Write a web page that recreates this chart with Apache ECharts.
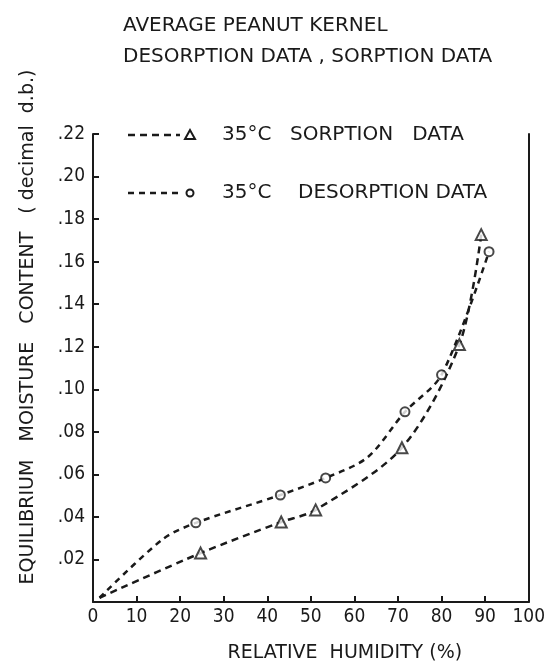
<!DOCTYPE html>
<html>
<head>
<meta charset="utf-8">
<script src="https://cdn.jsdelivr.net/npm/echarts@6/dist/echarts.min.js"></script>
<style>
  html, body { margin: 0; padding: 0; background: #fff; }
  #chart { width: 548px; height: 668px; }
</style>
</head>
<body>
<div id="chart"></div>
<script>
const sorptionRH = [24.7, 43.2, 51.1, 70.9, 84.1, 89.1];
const sorptionEMC = [0.023, 0.0376, 0.0433, 0.0725, 0.121, 0.1727];
const desorptionRH = [23.6, 43.0, 53.4, 71.6, 80.0, 90.9];
const desorptionEMC = [0.0372, 0.0503, 0.0583, 0.0894, 0.1068, 0.1647];
// where the hand-drawn curves start and bend (no marker there)
const sorptionCurve = [[1.5, 0.002]];
const desorptionCurve = [[1.5, 0.002], [16, 0.0295], [63, 0.068]];

const xTicks = [0, 10, 20, 30, 40, 50, 60, 70, 80, 90, 100];
const yTicks = [0, 0.02, 0.04, 0.06, 0.08, 0.10, 0.12, 0.14, 0.16, 0.18, 0.20, 0.22];

const font = "'DejaVu Sans', sans-serif";
const numFont = "'DejaVu Sans Condensed', 'DejaVu Sans', sans-serif";
const ink = '#1a1a1a';

function pairs(xs, ys) {
    return xs.map(function (x, i) { return [x, ys[i]]; });
}
function path(xs, ys, extra) {
    return pairs(xs, ys).concat(extra).sort(function (a, b) { return a[0] - b[0]; });
}

let mychart = echarts.init(document.getElementById('chart'));
let option = {
    backgroundColor: '#fff',
    animation: false,
    title: {
        text: 'AVERAGE PEANUT KERNEL\nDESORPTION DATA , SORPTION DATA',
        left: 118,
        top: 5,
        textStyle: {
            fontFamily: font,
            fontWeight: 'normal',
            fontSize: 20,
            lineHeight: 31,
            color: ink
        }
    },
    grid: {
        left: 93,
        right: 13,
        top: 134,
        bottom: 66
    },
    xAxis: {
        type: 'value',
        min: xTicks[0],
        max: xTicks[xTicks.length - 1],
        interval: 10,
        name: 'RELATIVE  HUMIDITY (%)',
        nameLocation: 'middle',
        nameGap: 42,
        nameTextStyle: { fontFamily: font, fontSize: 19, color: ink, padding: [0, 0, 0, 68] },
        splitLine: { show: false },
        axisLine: { lineStyle: { color: ink, width: 2 } },
        axisTick: { inside: true, length: 6, lineStyle: { color: ink, width: 2 } },
        axisLabel: { fontFamily: numFont, fontSize: 19, color: ink, margin: 6 }
    },
    yAxis: [
        {
            type: 'value',
            min: yTicks[0],
            max: yTicks[yTicks.length - 1],
            interval: 0.02,
            splitLine: { show: false },
            axisLine: { lineStyle: { color: ink, width: 2 } },
            axisTick: { inside: true, length: 6, lineStyle: { color: ink, width: 2 } },
            axisLabel: {
                fontFamily: numFont,
                fontSize: 19,
                color: ink,
                margin: 8,
                formatter: function (v) {
                    if (v === 0) return '';
                    return '.' + Math.round(v * 100).toString().padStart(2, '0');
                }
            }
        },
        {
            type: 'value',
            position: 'right',
            min: 0,
            max: 0.22,
            interval: 0.02,
            splitLine: { show: false },
            axisLine: { show: true, lineStyle: { color: ink, width: 2 } },
            axisTick: { show: false },
            axisLabel: { show: false }
        }
    ],
    graphic: [
        {
            type: 'text',
            x: 28,
            y: 327,
            rotation: Math.PI / 2,
            style: {
                text: 'EQUILIBRIUM   MOISTURE   CONTENT   ( decimal  d.b.)',
                fontFamily: font,
                fontSize: 19,
                fill: ink,
                align: 'center',
                verticalAlign: 'middle'
            }
        },
        // legend, drawn by hand like the original
        { type: 'line', shape: { x1: 128, y1: 135, x2: 180, y2: 135 }, style: { stroke: ink, lineWidth: 2.5, lineDash: [7, 5] } },
        { type: 'polygon', shape: { points: [[190, 130], [185, 139], [195, 139]] }, style: { fill: '#fff', stroke: ink, lineWidth: 2 } },
        { type: 'text', x: 222, y: 135, style: { text: '35°C', fontFamily: font, fontSize: 20, fill: ink, verticalAlign: 'middle' } },
        { type: 'text', x: 290, y: 135, style: { text: 'SORPTION   DATA', fontFamily: font, fontSize: 20, fill: ink, verticalAlign: 'middle' } },
        { type: 'line', shape: { x1: 128, y1: 193, x2: 180, y2: 193 }, style: { stroke: ink, lineWidth: 2.5, lineDash: [6, 5] } },
        { type: 'circle', shape: { cx: 190, cy: 193, r: 3.5 }, style: { fill: '#fff', stroke: ink, lineWidth: 2 } },
        { type: 'text', x: 222, y: 193, style: { text: '35°C', fontFamily: font, fontSize: 20, fill: ink, verticalAlign: 'middle' } },
        { type: 'text', x: 298, y: 193, style: { text: 'DESORPTION DATA', fontFamily: font, fontSize: 20, fill: ink, verticalAlign: 'middle' } }
    ],
    series: [
        {
            name: '35°C SORPTION DATA',
            type: 'line',
            smooth: 0.3,
            symbol: 'none',
            lineStyle: { color: ink, width: 2.5, type: [7, 5] },
            data: path(sorptionRH, sorptionEMC, sorptionCurve),
            z: 2
        },
        {
            name: '35°C DESORPTION DATA',
            type: 'line',
            smooth: 0.3,
            symbol: 'none',
            lineStyle: { color: ink, width: 2.5, type: [6, 5] },
            data: path(desorptionRH, desorptionEMC, desorptionCurve),
            z: 2
        },
        {
            name: 'sorption points',
            type: 'scatter',
            symbol: 'triangle',
            symbolSize: 11,
            itemStyle: { color: '#fff', borderColor: ink, borderWidth: 2 },
            data: pairs(sorptionRH, sorptionEMC),
            z: 3
        },
        {
            name: 'desorption points',
            type: 'scatter',
            symbol: 'circle',
            symbolSize: 9,
            itemStyle: { color: '#fff', borderColor: ink, borderWidth: 2 },
            data: pairs(desorptionRH, desorptionEMC),
            z: 3
        }
    ]
};
mychart.setOption(option);
window.addEventListener('resize', function () {
    mychart.resize();
});
</script>
</body>
</html>
